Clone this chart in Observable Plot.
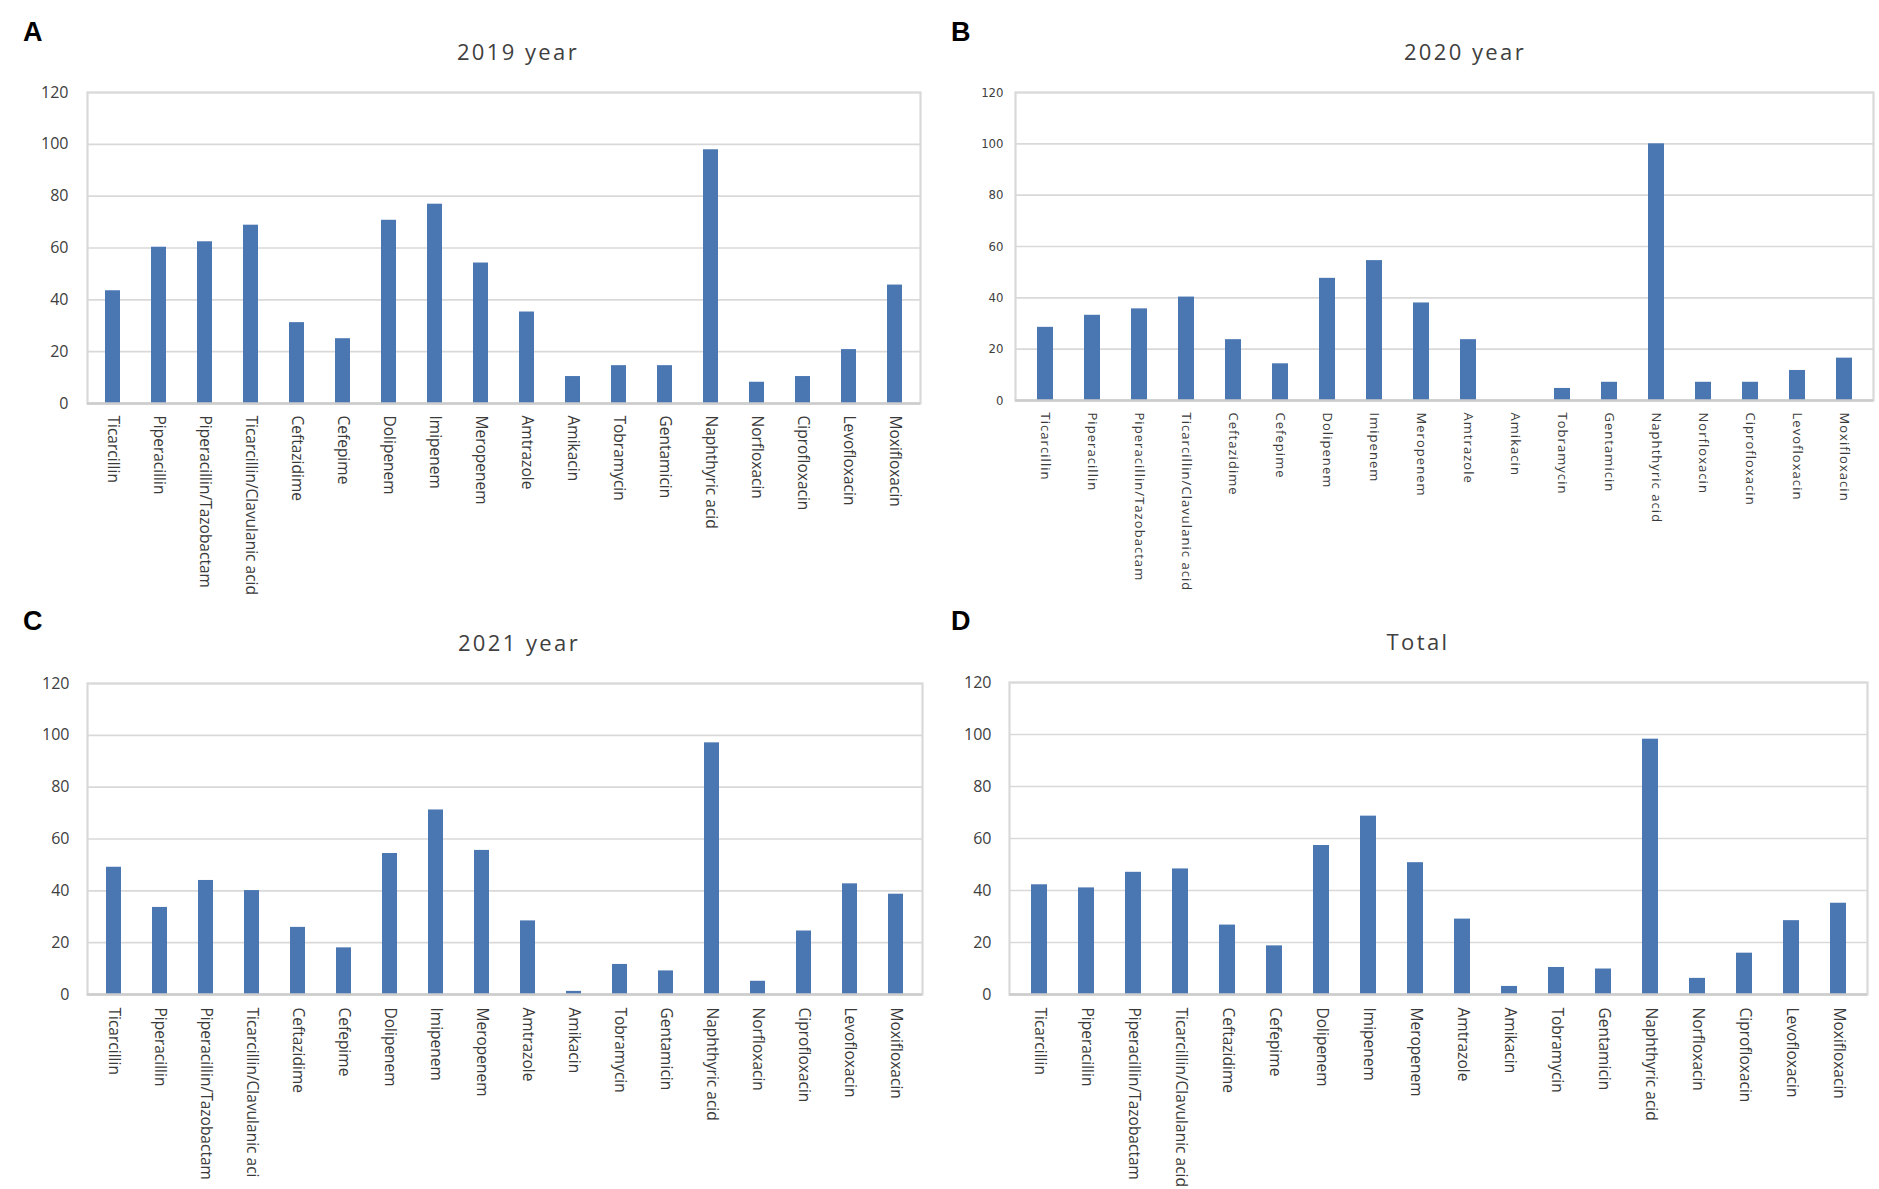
<!DOCTYPE html>
<html>
<head>
<meta charset="utf-8">
<script src="https://cdn.jsdelivr.net/npm/d3@7"></script>
<script src="https://cdn.jsdelivr.net/npm/@observablehq/plot@0.6"></script>
<style>
  html, body { margin: 0; padding: 0; background: #ffffff; }
  #root { position: relative; width: 1879px; height: 1189px; background: #fff; overflow: hidden; }
  .panel { position: absolute; }
  .letter { position: absolute; font-family: "Liberation Sans", Arial, sans-serif; font-weight: bold; font-size: 27px; line-height: 27px; color: #000; }
  .title { position: absolute; font-family: "Open Sans", sans-serif; font-size: 22px; line-height: 22px; color: #404040; letter-spacing: 2.4px; transform: translateX(-50%); white-space: nowrap; }
</style>
</head>
<body>
<div id="root"></div>
<script>
const categories = ["Ticarcillin","Piperacillin","Piperacillin/Tazobactam","Ticarcillin/Clavulanic acid","Ceftazidime","Cefepime","Dolipenem","Imipenem","Meropenem","Amtrazole","Amikacin","Tobramycin","Gentamicin","Naphthyric acid","Norfloxacin","Ciprofloxacin","Levofloxacin","Moxifloxacin"];
const labelsC = ["Ticarcillin","Piperacillin","Piperacillin/Tazobactam","Ticarcillin/Clavulanic aci","Ceftazidime","Cefepime","Dolipenem","Imipenem","Meropenem","Amtrazole","Amikacin","Tobramycin","Gentamicin","Naphthyric acid","Norfloxacin","Ciprofloxacin","Levofloxacin","Moxifloxacin"];
const values2019 = [43.5,60.3,62.4,68.8,31.2,25.0,70.7,76.9,54.2,35.3,10.4,14.6,14.6,97.9,8.2,10.4,20.8,45.7];
const values2020 = [28.5,33.2,35.7,40.3,23.7,14.3,47.6,54.5,38.0,23.7,0,4.7,7.1,100,7.1,7.1,11.7,16.5];
const values2021 = [49.1,33.6,44.0,40.1,25.9,18.0,54.4,71.2,55.6,28.4,1.2,11.6,9.1,97.1,5.1,24.5,42.7,38.7];
const valuesTotal = [42.2,41.0,47.0,48.3,26.7,18.7,57.3,68.6,50.7,29.0,3.1,10.4,9.8,98.2,6.2,15.9,28.4,35.1];
const yTicks = [0,20,40,60,80,100,120];
const panelTitles = ["2019 year","2020 year","2021 year","Total"];
const panelLetters = ["A","B","C","D"];

const root = document.getElementById("root");

function makePanel(o) {
  const data = categories.map((c, i) => ({cat: c, v: o.values[i]}));
  const labelMap = new Map(categories.map((c, i) => [c, o.labels[i]]));
  const chart = Plot.plot({
    width: o.width,
    height: o.height,
    marginLeft: o.ml,
    marginRight: o.mr,
    marginTop: o.mt,
    marginBottom: o.mb,
    style: {background: "transparent", fontFamily: "Open Sans, sans-serif"},
    x: {domain: categories, paddingInner: 0.67, paddingOuter: 0.335, label: null, axis: null},
    y: {domain: [0, 120], label: null, axis: null},
    marks: [
      Plot.gridY(yTicks, {stroke: "#d9d9d9", strokeOpacity: 1, strokeWidth: 1.6}),
      Plot.frame({stroke: "#d9d9d9", strokeWidth: 2.2}),
      Plot.barY(data, {x: "cat", y: "v", fill: "#4a76b2"}),
      Plot.ruleY([0], {stroke: "#cdcdcd", strokeWidth: 2.6}),
      Plot.axisY(yTicks, {tickSize: 0, tickPadding: o.yPad, fontSize: o.yFont, fontFamily: o.yFamily, fill: "#404040", label: null}),
      Plot.axisX({tickSize: 0, tickPadding: o.xPad, tickRotate: 90, fontSize: o.xFont, fontFamily: "Open Sans, sans-serif", fill: "#3a3a3a", label: null, tickFormat: d => labelMap.get(d)})
    ]
  });
  if (o.xSpacing) {
    chart.querySelectorAll('g[aria-label="x-axis tick label"] text').forEach(t => t.style.letterSpacing = o.xSpacing);
  }
  const wrap = document.createElement("div");
  wrap.className = "panel";
  wrap.style.left = o.left + "px";
  wrap.style.top = o.top + "px";
  wrap.appendChild(chart);
  root.appendChild(wrap);

  const letter = document.createElement("div");
  letter.className = "letter";
  letter.textContent = o.letter;
  letter.style.left = o.letterX + "px";
  letter.style.top = o.letterY + "px";
  root.appendChild(letter);

  const title = document.createElement("div");
  title.className = "title";
  title.textContent = o.title;
  title.style.left = o.titleX + "px";
  title.style.top = o.titleY + "px";
  root.appendChild(title);
}

makePanel({values: values2019, labels: categories, left: 0, top: 0, width: 940, height: 595,
  ml: 87, mr: 20, mt: 92, mb: 192, yPad: 19, xPad: 12, yFont: 16, xFont: 15.5, yFamily: "Open Sans, sans-serif",
  letter: panelLetters[0], letterX: 23, letterY: 19, title: panelTitles[0], titleX: 518, titleY: 40});
makePanel({values: values2020, labels: categories, left: 940, top: 0, width: 939, height: 595,
  ml: 75, mr: 6, mt: 92, mb: 195, yPad: 12, xPad: 12, yFont: 13, xFont: 13, xSpacing: "1.05px", yFamily: "'Liberation Sans Narrow', 'DejaVu Sans Condensed', sans-serif",
  letter: panelLetters[1], letterX: 951, letterY: 19, title: panelTitles[1], titleX: 1465, titleY: 40});
makePanel({values: values2021, labels: labelsC, left: 0, top: 590, width: 940, height: 599,
  ml: 87, mr: 18, mt: 93, mb: 195, yPad: 18, xPad: 13, yFont: 16, xFont: 15.5, yFamily: "Open Sans, sans-serif",
  letter: panelLetters[2], letterX: 23, letterY: 608, title: panelTitles[2], titleX: 519, titleY: 631});
makePanel({values: valuesTotal, labels: categories, left: 940, top: 590, width: 939, height: 599,
  ml: 69, mr: 12, mt: 92, mb: 195, yPad: 18, xPad: 13, yFont: 16, xFont: 15.5, yFamily: "Open Sans, sans-serif",
  letter: panelLetters[3], letterX: 951, letterY: 608, title: panelTitles[3], titleX: 1418, titleY: 630});
</script>
</body>
</html>
